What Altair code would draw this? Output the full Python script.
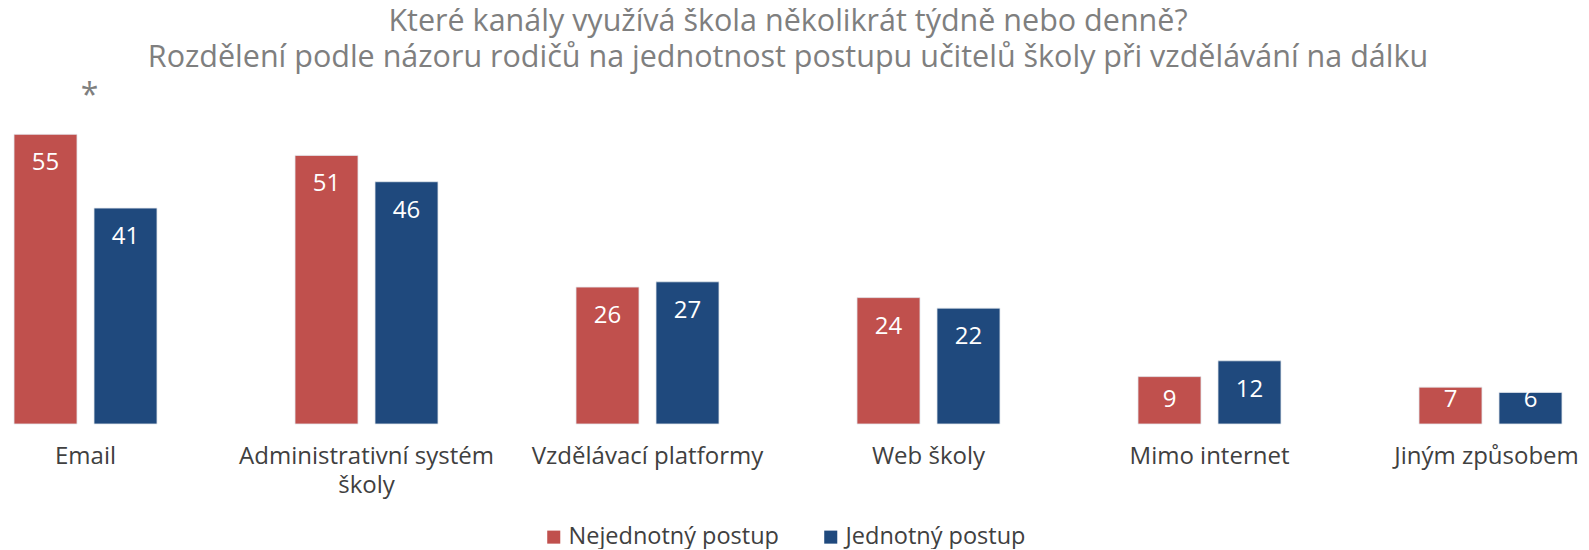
import altair as alt
import pandas as pd

categories = ["Email", "Administrativní systém školy", "Vzdělávací platformy",
              "Web školy", "Mimo internet", "Jiným způsobem"]
series_names = ["Nejednotný postup", "Jednotný postup"]
nejednotny = [55, 51, 26, 24, 9, 7]
jednotny = [41, 46, 27, 22, 12, 6]
colors = ["#C0504D", "#1F497D"]
title_lines = ["Které kanály využívá škola několikrát týdně nebo denně?",
               "Rozdělení podle názoru rodičů na jednotnost postupu učitelů školy při vzdělávání na dálku"]
note_category = "Email"
note_text = "*"

rows = []
for c, a, b in zip(categories, nejednotny, jednotny):
    rows.append({"category": c, "series": series_names[0], "value": a})
    rows.append({"category": c, "series": series_names[1], "value": b})
df = pd.DataFrame(rows)

note_df = pd.DataFrame([{"category": note_category, "note": note_text,
                         "value": max(nejednotny[categories.index(note_category)],
                                      jednotny[categories.index(note_category)])}])

FONT = "Open Sans"

x_enc = alt.X("category:N", sort=categories,
              scale=alt.Scale(paddingInner=0.4911, paddingOuter=0.0214),
              axis=alt.Axis(title=None, labelAngle=0, domain=False, ticks=False,
                            labelPadding=20, labelFontSize=24, labelFont=FONT,
                            labelColor="#404040", labelLineHeight=29,
                            labelLimit=400,
                            labelOffset={"condition": {"test": "datum.label == 'Jiným způsobem'",
                                                       "value": -4}, "value": 0},
                            labelExpr="datum.label == 'Administrativní systém školy' ? ['Administrativní systém', 'školy'] : datum.label"))
y_scale = alt.Scale(domain=[0, 60], nice=False, zero=True)
xoff = alt.XOffset("series:N", sort=series_names,
                   scale=alt.Scale(paddingInner=0.2125, paddingOuter=0))

bars = alt.Chart(df).mark_bar(stroke="#e4e8ee", strokeWidth=0.8).encode(
    x=x_enc,
    xOffset=xoff,
    y=alt.Y("value:Q", scale=y_scale, axis=None),
    color=alt.Color("series:N", sort=series_names,
                    scale=alt.Scale(domain=series_names, range=colors),
                    legend=alt.Legend(title=None, orient="none", direction="horizontal",
                                      legendX=534, legendY=417, padding=0,
                                      symbolType="square", symbolSize=170,
                                      symbolStrokeWidth=0, labelFontSize=23.5,
                                      labelFont=FONT, labelColor="#404040",
                                      labelLimit=400,
                                      labelOffset=3, columnPadding=40)),
)

labels = alt.Chart(df).transform_calculate(
    labelpos="max(datum.value, 10)"
).mark_text(color="white", fontSize=24, font=FONT, baseline="middle", dy=29).encode(
    x=alt.X("category:N", sort=categories),
    xOffset=xoff,
    y=alt.Y("labelpos:Q", scale=y_scale),
    text=alt.Text("value:Q"),
)

note = alt.Chart(note_df).mark_text(color="#7f7f7f", fontSize=32, font=FONT,
                                    baseline="alphabetic", dy=-28, dx=4).encode(
    x=alt.X("category:N", sort=categories),
    y=alt.Y("value:Q", scale=y_scale),
    text="note:N",
)

chart = alt.layer(bars, labels, note).properties(
    width=1560, height=316,
    title=alt.TitleParams(text=title_lines, fontSize=30.5, font=FONT, color="#7f7f7f",
                          fontWeight="normal", anchor="middle", lineHeight=36, offset=7),
    autosize=alt.AutoSizeParams(type="none"),
    padding={"left": 0, "top": 100, "right": 13, "bottom": 125},
).configure_view(stroke=None)

chart.save("out.html", embed_options={"renderer": "svg", "actions": False})
